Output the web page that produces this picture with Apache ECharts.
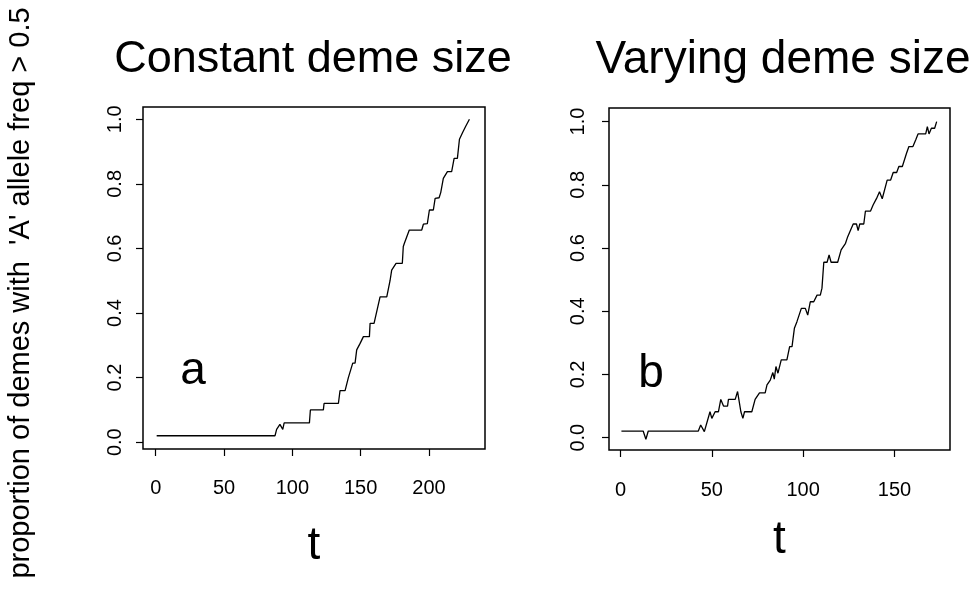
<!DOCTYPE html>
<html>
<head>
<meta charset="utf-8">
<script src="https://cdn.jsdelivr.net/npm/echarts@6/dist/echarts.min.js"></script>
<style>
  html, body { margin: 0; padding: 0; background: #fff; }
  #chart { width: 972px; height: 589px; }
</style>
</head>
<body>
<div id="chart"></div>
<script>
// panel a: constant deme size
var tA = [0.7,87.3,88.5,89.7,90.9,91.8,93.0,94.0,112.5,113.2,122.7,123.2,133.7,134.9,138.6,141.0,142.2,144.2,
  145.9,147.1,148.3,149.6,150.5,152.0,156.4,156.9,159.8,164.2,169.1,171.5,172.7,175.9,180.5,181.2,182.0,185.6,
  194.7,195.9,198.8,200.3,203.2,204.5,207.4,208.6,210.5,213.5,216.6,218.4,220.8,222.3,223.5,224.7,226.7,229.6]
var pA = [0.02,0.02,0.04,0.04,0.055,0.06,0.04,0.06,0.06,0.10,0.10,0.12,0.12,0.16,0.16,0.20,0.20,0.245,
  0.245,0.286,0.29,0.306,0.31,0.327,0.327,0.368,0.368,0.45,0.45,0.50,0.533,0.554,0.554,0.606,0.616,0.657,
  0.657,0.675,0.677,0.719,0.719,0.755,0.757,0.773,0.817,0.838,0.838,0.879,0.879,0.938,0.94,0.96,0.977,1.0]

// panel b: varying deme size
var tB = [0.5,12.4,13.9,15.2,42.6,43.9,44.8,45.9,49.0,50.0,51.8,53.6,54.9,56.4,58.6,59.1,62.8,64.1,65.9,67.0,
  67.9,71.9,73.7,76.1,79.2,80.2,82.0,83.4,84.2,85.1,86.2,88.0,91.1,92.6,93.9,95.2,96.6,99.0,101.2,102.5,
  103.9,105.8,107.6,109.4,110.3,111.3,113.1,114.2,115.3,118.9,120.8,123.2,124.4,127.4,129.2,130.1,131.0,133.2,134.1,136.9,
  138.3,140.2,141.8,143.3,146.0,147.9,149.3,151.2,152.4,154.3,156.6,157.9,160.1,161.6,162.9,167.1,168.0,168.9,170.2,172.0,173.1]
var pB = [0.021,0.021,-0.005,0.021,0.021,0.04,0.04,0.019,0.082,0.061,0.082,0.082,0.121,0.10,0.10,0.121,0.121,0.146,0.082,0.061,
  0.082,0.082,0.121,0.142,0.142,0.167,0.182,0.206,0.185,0.225,0.204,0.246,0.246,0.288,0.288,0.346,0.367,0.409,0.409,0.388,
  0.43,0.43,0.451,0.451,0.473,0.555,0.555,0.578,0.555,0.555,0.594,0.615,0.636,0.676,0.676,0.655,0.676,0.676,0.717,0.717,
  0.736,0.757,0.778,0.756,0.815,0.815,0.839,0.839,0.858,0.858,0.90,0.921,0.921,0.942,0.961,0.961,0.984,0.961,0.979,0.979,1.0]

var xTicksA = [0, 50, 100, 150, 200]
var xTicksB = [0, 50, 100, 150]
var yTicks = [0, 0.2, 0.4, 0.6, 0.8, 1.0]

var FONT = 'Liberation Sans, Arial, Helvetica, sans-serif'

function zip (t, p) {
  return t.map(function (v, i) { return [v, p[i]] })
}

function xAxisFor (idx, ticks, min, max, gap, margin) {
  return {
    type: 'value', gridIndex: idx, min: min, max: max,
    name: 't', nameLocation: 'middle', nameGap: gap,
    nameTextStyle: { fontSize: 46, color: '#000', fontFamily: FONT, verticalAlign: 'middle' },
    axisLine: { show: false, onZero: false },
    axisTick: { show: true, inside: false, length: 7, customValues: ticks, lineStyle: { color: '#000', width: 1.2 } },
    axisLabel: { customValues: ticks, fontSize: 20, color: '#000', fontFamily: FONT, margin: margin },
    splitLine: { show: false }
  }
}

function yAxisFor (idx, min, max, margin) {
  return {
    type: 'value', gridIndex: idx, min: min, max: max,
    axisLine: { show: false, onZero: false },
    axisTick: { show: true, inside: false, length: 7, customValues: yTicks, lineStyle: { color: '#000', width: 1.2 } },
    axisLabel: {
      customValues: yTicks, rotate: 90, fontSize: 20, color: '#000', fontFamily: FONT, margin: margin,
      formatter: function (v) { return v.toFixed(1) }
    },
    splitLine: { show: false }
  }
}

var chart = echarts.init(document.getElementById('chart'))
chart.setOption({
  backgroundColor: '#fff',
  animation: false,
  grid: [
    { left: 143, top: 107, width: 342, height: 342, show: true, borderColor: '#000', borderWidth: 1.5 },
    { left: 609, top: 108, width: 341, height: 342, show: true, borderColor: '#000', borderWidth: 1.5 }
  ],
  xAxis: [
    xAxisFor(0, xTicksA, -9.3, 241, 97, 29),
    xAxisFor(1, xTicksB, -6.3, 180.4, 90, 30)
  ],
  yAxis: [
    yAxisFor(0, -0.021, 1.038, 18),
    yAxisFor(1, -0.039, 1.043, 21)
  ],
  graphic: [
    { type: 'text', x: 313, y: 60, style: { text: 'Constant deme size', fontSize: 45, fontFamily: FONT, fill: '#000', align: 'center', verticalAlign: 'middle' } },
    { type: 'text', x: 783, y: 60, style: { text: 'Varying deme size', fontSize: 46, fontFamily: FONT, fill: '#000', align: 'center', verticalAlign: 'middle' } },
    { type: 'text', x: 193, y: 371, style: { text: 'a', fontSize: 46, fontFamily: FONT, fill: '#000', align: 'center', verticalAlign: 'middle' } },
    { type: 'text', x: 651, y: 374, style: { text: 'b', fontSize: 46, fontFamily: FONT, fill: '#000', align: 'center', verticalAlign: 'middle' } },
    { type: 'text', x: 21, y: 293, rotation: Math.PI / 2,
      style: { text: "proportion of demes with  'A' allele freq > 0.5", fontSize: 29, fontFamily: FONT, fill: '#000', align: 'center', verticalAlign: 'middle' } }
  ],
  series: [
    {
      name: 'Constant deme size', type: 'line', xAxisIndex: 0, yAxisIndex: 0,
      showSymbol: false, lineStyle: { color: '#000', width: 1.3 },
      data: zip(tA, pA)
    },
    {
      name: 'Varying deme size', type: 'line', xAxisIndex: 1, yAxisIndex: 1,
      showSymbol: false, lineStyle: { color: '#000', width: 1.3 },
      data: zip(tB, pB)
    }
  ]
})
</script>
</body>
</html>
